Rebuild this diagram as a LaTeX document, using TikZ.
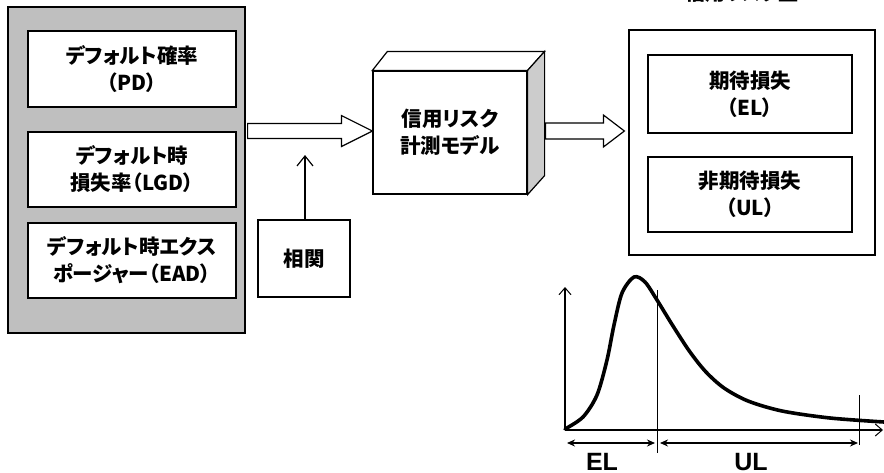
\documentclass[tikz,border=0pt]{standalone}
\usepackage{fontspec}
\newfontfamily\jp[RawFeature=+palt]{Noto Sans CJK JP}
\newfontfamily\lat{Liberation Sans}
\usetikzlibrary{arrows.meta,calc}
\tikzset{
  box/.style={draw, line width=1.2pt, fill=white, align=center, inner sep=0pt,
    font=\jp\bfseries\fontsize{20.5}{27}\selectfont},
  blockarrow/.style={draw, line width=1.2pt, fill=white, line join=miter},
  barb/.style={-{Straight Barb[length=10pt,width=16pt,line width=1.2pt]}, line width=1.3pt},
  dbl/.style={{Stealth[length=8pt,width=7pt]}-{Stealth[length=8pt,width=7pt]}, line width=1.4pt},
  thinline/.style={line width=0.8pt},
}
\begin{document}
\begin{tikzpicture}[x=1pt,y=-1pt]
\clip (0,0) rectangle (884,472);
\fill[white] (0,0) rectangle (884,472);

% title (cut off at top)
\node[font=\jp\bfseries\fontsize{20}{27}\selectfont] (title) at (742,-7) {信用リスク量};

% left group
\node[draw, line width=1.2pt, fill=black!25, minimum width=237pt, minimum height=326pt] (inputs) at (126.5,170) {};
\node[box, minimum width=208pt, minimum height=76pt] (pd) at (132,69) {デフォルト確率\\（PD）};
\node[box, minimum width=208pt, minimum height=75pt] (lgd) at (132,169.5) {デフォルト時\\損失率（LGD）};
\node[box, minimum width=208pt, minimum height=75pt] (ead) at (132,260.5) {デフォルト時エクス\\ポージャー（EAD）};

% correlation
\node[box, minimum width=92pt, minimum height=77pt] (corr) at (304,258.5) {相関};

% model cube
\node[box, minimum width=154pt, minimum height=123pt] (model) at (450,132.5) {信用リスク\\計測モデル};
\draw[line width=1.2pt, fill=white, line join=miter] (model.north west) -- ++(15,-19) -- ($(model.north east)+(17,-19)$) -- (model.north east) -- cycle;
\draw[line width=1.2pt, fill=black!20, line join=miter] (model.north east) -- ++(17,-19) -- ($(model.south east)+(17,-19)$) -- (model.south east) -- cycle;

% result group
\node[draw, line width=1.2pt, minimum width=246pt, minimum height=225pt] (result) at (752,142.5) {};
\node[box, minimum width=204pt, minimum height=78pt] (el) at (750,94) {期待損失\\（EL）};
\node[box, minimum width=204pt, minimum height=75pt] (ul) at (750,194.5) {非期待損失\\（UL）};

% block arrow 1: inputs -> model
\coordinate (a1s) at (inputs.east |- 0,131);
\coordinate (a1t) at (model.west |- 0,131);
\draw[blockarrow] ($(a1s)+(2,-7.5)$) -- ($(a1t)+(-31,-7.5)$) -- ($(a1t)+(-31,-15.5)$) -- (a1t)
  -- ($(a1t)+(-31,15.5)$) -- ($(a1t)+(-31,7.5)$) -- ($(a1s)+(2,7.5)$) -- cycle;

% block arrow 2: model -> result
\coordinate (a2s) at ($(model.east |- 0,131)+(17,0)$);
\coordinate (a2t) at ($(result.west |- 0,131)+(-4,0)$);
\draw[blockarrow] ($(a2s)+(1,-8)$) -- ($(a2t)+(-21,-8)$) -- ($(a2t)+(-21,-16)$) -- (a2t)
  -- ($(a2t)+(-21,16)$) -- ($(a2t)+(-21,8)$) -- ($(a2s)+(1,8)$) -- cycle;

% correlation arrow
\coordinate (cArr) at (305,155);
\draw[barb] (corr.north -| cArr) -- (cArr);

% distribution chart
\coordinate (O) at (565,430);
\coordinate (ytop) at (565,287);
\coordinate (xend) at (883,430);
\draw[-{Straight Barb[length=7pt,width=12pt,line width=1pt]}, line width=1.3pt] (O) -- (ytop);
\draw[-{Straight Barb[length=7pt,width=12pt,line width=1pt]}, line width=1.3pt] (O) -- (xend);
\draw[line width=3.6pt, line cap=round, line join=round] plot[smooth, tension=0.5] coordinates {
  (565,429) (583,417) (597,395) (607,360) (614,325) (622,293) (634,277) (645,282) (657,300)
  (673,326) (690,352) (706,372) (724,388) (748,401) (782,411) (830,418) (884,422)};
\coordinate (v1t) at (657,290);
\coordinate (v1b) at (657,453);
\coordinate (v2t) at (859,395);
\coordinate (v2b) at (859,445);
\draw[thinline] (v1t) -- (v1b);
\draw[thinline] (v2t) -- (v2b);
\coordinate (e1) at (567,443);
\coordinate (e2) at (655,443);
\coordinate (u1) at (660,443);
\coordinate (u2) at (858,443);
\draw[dbl] (e1) -- (e2);
\draw[dbl] (u1) -- (u2);
\node[font=\lat\bfseries\fontsize{25}{25}\selectfont, anchor=north] (elab) at (602,450) {EL};
\node[font=\lat\bfseries\fontsize{25}{25}\selectfont, anchor=north] (ulab) at (751,450) {UL};
\end{tikzpicture}
\end{document}
